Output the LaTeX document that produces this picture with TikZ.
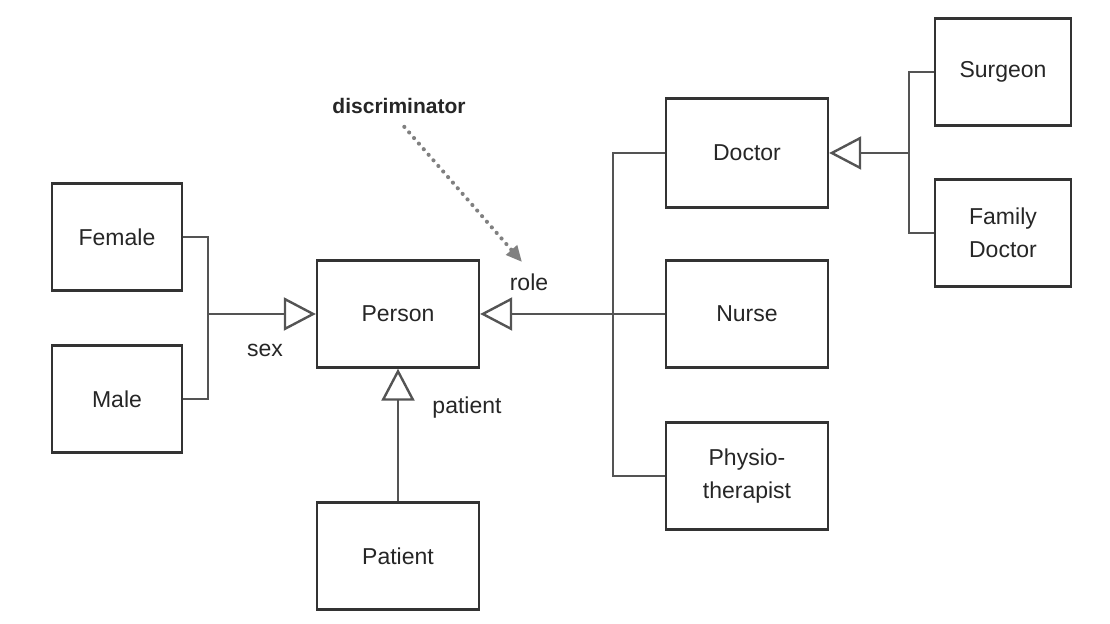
\documentclass[tikz,border=0pt]{standalone}
\usepackage{fontspec}
\setmainfont{Liberation Sans}
\usepackage{tikz}
\usetikzlibrary{arrows.meta}
\definecolor{ln}{rgb}{0.33, 0.33, 0.33}

\begin{document}
\begin{tikzpicture}[x=0.5pt, y=-0.5pt,
                    every node/.style = {font=\fontsize{11.5}{16.5}\selectfont, text=black!85},
                    cls/.style = {draw=black!80, line width=1.2pt, align=center, inner sep=0pt,
                                  minimum width=81pt, minimum height=53.5pt},
                    small/.style = {minimum width=65pt},
                    link/.style = {draw=ln, line width=1.2pt},
                    gen/.style = {link, -{Triangle[open, length=16pt, width=16.5pt]}}]
                \useasboundingbox (0,0) rectangle (1110,624);
                \node (female)  [cls, small] at (117,237)  {Female};
                \node (male)    [cls, small] at (117,399)  {Male};
                \node (person)  [cls] at (398,314)         {Person};
                \node (patient) [cls] at (398,556)         {Patient};
                \node (doctor)  [cls, minimum height=54.5pt] at (747,153) {Doctor};
                \node (nurse)   [cls] at (747,314)         {Nurse};
                \node (physio)  [cls] at (747,476)         {Physio-\\therapist};
                \node (surgeon) [cls, minimum width=68pt] at (1003,72)  {Surgeon};
                \node (family)  [cls, minimum width=68pt] at (1003,233) {Family\\Doctor};
                \coordinate (sexj)  at (208,314);
                \coordinate (rolej) at (613,314);
                \coordinate (docj)  at (909,153);
                \draw[link] (female.east) -| (sexj) |- (male.east);
                \draw[gen]  (sexj) -- (person.west);
                \draw[link] (doctor.west) -| (rolej) |- (physio.west);
                \draw[link] (rolej) -- (nurse.west);
                \draw[gen]  (rolej) -- (person.east);
                \draw[link] (surgeon.west) -| (docj) |- (family.west);
                \draw[gen]  (docj) -- (doctor.east);
                \draw[gen]  (patient) -- (person);
                \node (sex)  at (265,350) {sex};
                \node (role) at (529,282) {role};
                \node (pat)  at (467,408) {patient};
                \node (disc) [font=\bfseries\fontsize{10.5}{12}\selectfont] at (399,106) {discriminator};
                \coordinate (discend) at (522,262);
                \draw[gray, line width=2pt, line cap=round, dash pattern=on 0.1pt off 3.6pt,
                      shorten <=4pt, -{Triangle[length=8pt, width=7pt]}] (disc.south) -- (discend);
            \end{tikzpicture}
\end{document}
